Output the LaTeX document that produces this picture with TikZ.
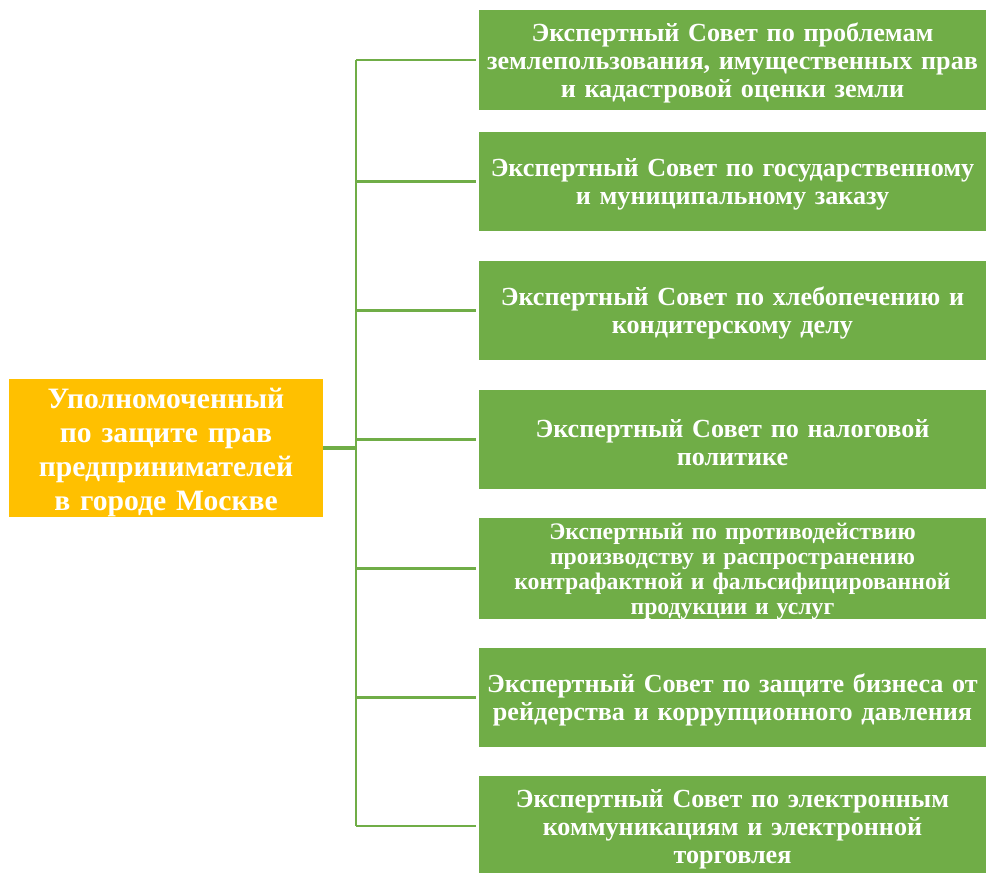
\documentclass[tikz,border=0pt]{standalone}
\usepackage{fontspec}
\setmainfont{Liberation Serif}
\usetikzlibrary{positioning}
\definecolor{ofgreen}{HTML}{70AD47}
\definecolor{oforange}{HTML}{FFC000}
\tikzset{
    council/.style={rectangle, fill=ofgreen, text=white, minimum width=380pt, minimum height=74.5pt, text width=378pt, inner sep=0pt, align=center, font=\fontsize{19.6}{21}\selectfont\bfseries, execute at begin node={\rule{0pt}{0.92em}}},
    chief/.style={rectangle, fill=oforange, text=white, minimum width=235.5pt, minimum height=102pt, text width=232pt, inner sep=0pt, align=center, font=\fontsize{22.2}{25.5}\selectfont\bfseries, execute at begin node={\rule{0pt}{0.97em}}},
    link/.style={draw=ofgreen, line width=1.6pt},
}
\begin{document}
\begin{tikzpicture}[x=0.75pt, y=-0.75pt]
\useasboundingbox (0,0) rectangle (986,873);

% Head
\node[chief] (head) at (166,448) {Уполномоченный\\по защите прав\\предпринимателей\\в городе Москве};

% Councils
\node[council] (c1) at (732.5,60) {Экспертный Совет по проблемам\\землепользования, имущественных прав\\и кадастровой оценки земли};
\node[council] (c2) at (732.5,181.5) {Экспертный Совет по государственному\\и муниципальному заказу};
\node[council] (c3) at (732.5,310.5) {Экспертный Совет по хлебопечению и\\кондитерскому делу};
\node[council] (c4) at (732.5,439.5) {Экспертный Совет по налоговой\\политике};
\node[council, font=\fontsize{17.8}{18.75}\selectfont\bfseries] (c5) at (732.5,568.5) {Экспертный по противодействию\\производству и распространению\\контрафактной и фальсифицированной\\продукции и услуг};
\node[council] (c6) at (732.5,697.5) {Экспертный Совет по защите бизнеса от\\рейдерства и коррупционного давления};
\node[council] (c7) at (732.5,826) {Экспертный Совет по электронным\\коммуникациям и электронной\\торговлея};

% Connectors
\coordinate (spine) at (356,448);
\draw[link, line width=2.3pt] (head.east) -- (head.east -| spine);
\draw[link] (c1.west -| spine) -- (c7.west -| spine);
\foreach \i in {1,...,7}
    \draw[link] (c\i.west -| spine) -- ([xshift=-2pt]c\i.west);

\end{tikzpicture}
\end{document}
